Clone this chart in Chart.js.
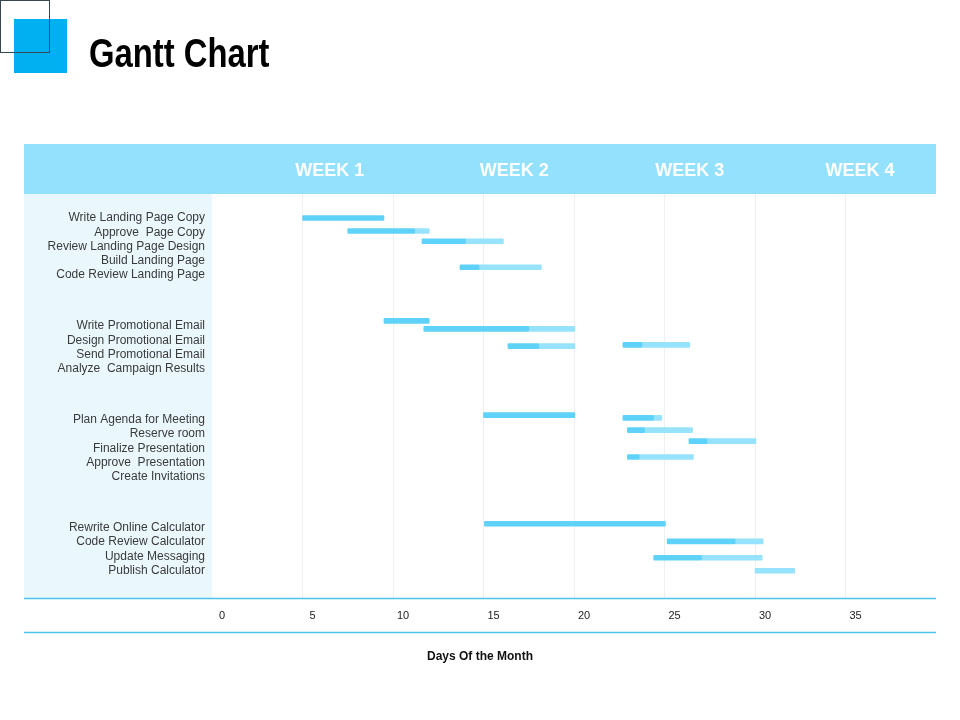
<!DOCTYPE html>
<html>
<head>
<meta charset="utf-8">
<script src="https://cdn.jsdelivr.net/npm/chart.js@4.4.1/dist/chart.umd.min.js"></script>
<style>
  body { margin: 0; background: #fff; }
  #wrap { position: relative; width: 960px; height: 720px; overflow: hidden; }
  #chart { position: absolute; left: 0; top: 0; }
  .sqFill { position: absolute; left: 14px; top: 19px; width: 53px; height: 54px; background: #00b0f0; }
  .sqLine { position: absolute; left: 0; top: 0; width: 48px; height: 51px; border: 1px solid #37474f; }
  h1 { position: absolute; left: 89px; top: 29px; margin: 0; font: bold 41px "Liberation Sans", Arial, sans-serif; color: #000;
       transform: scaleX(0.8); transform-origin: 0 0; white-space: nowrap; line-height: 48px; }
</style>
</head>
<body>
<div id="wrap">
  <canvas id="chart" width="960" height="720"></canvas>
  <div class="sqFill"></div>
  <div class="sqLine"></div>
  <h1>Gantt Chart</h1>
</div>
<script>
// task names per group (left column)
var groups = [
    ['Write Landing Page Copy', 'Approve  Page Copy', 'Review Landing Page Design', 'Build Landing Page', 'Code Review Landing Page'],
    ['Write Promotional Email', 'Design Promotional Email', 'Send Promotional Email', 'Analyze  Campaign Results'],
    ['Plan Agenda for Meeting', 'Reserve room', 'Finalize Presentation', 'Approve  Presentation', 'Create Invitations'],
    ['Rewrite Online Calculator', 'Code Review Calculator', 'Update Messaging', 'Publish Calculator']
];

// bars: row (in task rows), start day, end of done part, end day
var barRow   = [0, 0.91, 1.63, 3.45, 7.2, 7.76, 8.97, 8.88, 13.8, 13.99, 14.85, 15.62, 16.73, 21.4, 22.64, 23.78, 24.69];
var barStart = [5.0, 7.5, 11.6, 13.7, 9.5, 11.7, 16.35, 22.7, 15.0, 22.7, 22.95, 26.35, 22.95, 15.05, 25.15, 24.4, 30.0];
var barDone  = [9.5, 11.2, 14.0, 14.75, 12.0, 17.5, 18.05, 23.75, 20.05, 24.4, 23.9, 27.35, 23.6, 25.05, 28.9, 27.05, 30.0];
var barEnd   = [9.5, 12.0, 16.1, 18.2, 12.0, 20.05, 20.05, 26.4, 20.05, 24.85, 26.55, 30.05, 26.6, 25.05, 30.45, 30.4, 32.2];

var weekLabels = ['WEEK 1', 'WEEK 2', 'WEEK 3', 'WEEK 4'];
var weekDay = [6.5, 16.7, 26.4, 35.8];
var dayTicks = [0, 5, 10, 15, 20, 25, 30, 35];

// row positions of the names, with a gap between groups
var taskNames = [], taskRow = [];
var r = 0;
for (var g = 0; g < groups.length; g++) {
    for (var t = 0; t < groups[g].length; t++) {
        taskNames.push(groups[g][t]);
        taskRow.push(r);
        r++;
    }
    r += 2.56;
}

var doneData = [], leftData = [];
for (var i = 0; i < barRow.length; i++) {
    if (barDone[i] > barStart[i]) doneData.push({y: barRow[i], x: [barStart[i], barDone[i]]});
    if (barEnd[i] > barDone[i]) leftData.push({y: barRow[i], x: [barDone[i], barEnd[i]]});
}

var frame = {
    id: 'frame',
    beforeDraw: function(chart) {
        var c = chart.ctx, a = chart.chartArea, top = chart.scales.x2, ys = chart.scales.y;
        c.save();
        c.fillStyle = '#94e1fd';
        c.fillRect(ys.left, top.top, a.right - ys.left, top.bottom - top.top);
        c.fillStyle = '#eaf8fe';
        c.fillRect(ys.left, a.top, a.left - ys.left, a.bottom - a.top);
        c.restore();
    },
    afterDraw: function(chart) {
        var c = chart.ctx, a = chart.chartArea, ys = chart.scales.y;
        c.save();
        c.strokeStyle = '#4cc4ea';
        c.lineWidth = 1.5;
        c.beginPath();
        c.moveTo(ys.left, a.bottom); c.lineTo(a.right, a.bottom);
        c.moveTo(ys.left, a.bottom + 34); c.lineTo(a.right, a.bottom + 34);
        c.stroke();
        c.restore();
    }
};

var ctx = document.getElementById('chart').getContext('2d');
var myChart = new Chart(ctx, {
    type: 'bar',
    data: {
        datasets: [{
            label: 'Done',
            data: doneData,
            backgroundColor: '#5fd2f9',
            barThickness: 5,
            borderRadius: 1,
            borderSkipped: false,
            order: 1
        }, {
            label: 'Remaining',
            data: leftData,
            backgroundColor: '#97e2fc',
            barThickness: 5,
            borderRadius: 1,
            borderSkipped: false,
            order: 2
        }]
    },
    options: {
        indexAxis: 'y',
        responsive: false,
        animation: false,
        layout: { padding: { top: 144, left: 24, right: 24, bottom: 56 } },
        plugins: {
            legend: { display: false },
            tooltip: { enabled: false },
            title: {
                display: true,
                position: 'bottom',
                text: 'Days Of the Month',
                color: '#111',
                padding: { top: 1, bottom: 0 },
                font: { family: '"Liberation Sans", Arial, sans-serif', size: 12, weight: 'bold' }
            }
        },
        datasets: { bar: { grouped: false } },
        scales: {
            x: {
                type: 'linear',
                position: 'bottom',
                min: 0,
                max: 40,
                afterBuildTicks: function(axis) {
                    axis.ticks = dayTicks.map(function(v) { return {value: v}; });
                },
                afterFit: function(axis) { axis.height = 50; },
                grid: {
                    drawTicks: false,
                    color: function(c) { return c.tick && c.tick.value === 0 ? 'rgba(0,0,0,0)' : '#efefef'; }
                },
                border: { display: false },
                ticks: {
                    padding: 11,
                    labelOffset: 10,
                    color: '#222',
                    font: { family: '"Liberation Sans", Arial, sans-serif', size: 11 }
                }
            },
            x2: {
                type: 'linear',
                position: 'top',
                min: 0,
                max: 40,
                afterBuildTicks: function(axis) {
                    axis.ticks = weekDay.map(function(v) { return {value: v}; });
                },
                afterFit: function(axis) { axis.height = 50; },
                grid: { display: false },
                border: { display: false },
                ticks: {
                    autoSkip: false,
                    maxRotation: 0,
                    padding: 4,
                    color: '#ffffff',
                    font: { family: '"Liberation Sans", Arial, sans-serif', size: 18, weight: 'bold' },
                    callback: function(v, i) { return weekLabels[i]; }
                }
            },
            y: {
                type: 'linear',
                reverse: true,
                offset: false,
                min: -1.68,
                max: 26.64,
                afterBuildTicks: function(axis) {
                    axis.ticks = taskRow.map(function(v) { return {value: v}; });
                },
                afterFit: function(axis) { axis.width = 188; },
                grid: { display: false, drawTicks: false },
                border: { display: false },
                ticks: {
                    autoSkip: false,
                    padding: 7,
                    color: '#3a3a3a',
                    font: { family: '"Liberation Sans", Arial, sans-serif', size: 12 },
                    callback: function(v, i) { return taskNames[i]; }
                }
            }
        }
    },
    plugins: [frame]
});
</script>
</body>
</html>
